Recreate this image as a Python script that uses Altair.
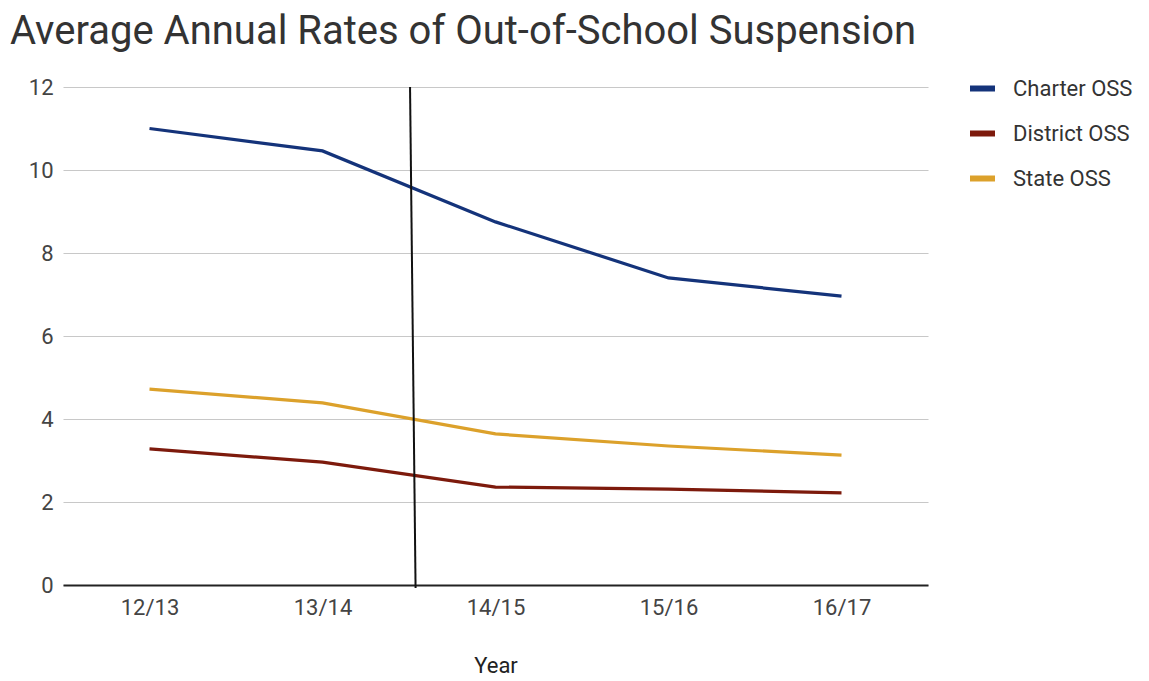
import altair as alt
import pandas as pd

years = ["12/13", "13/14", "14/15", "15/16", "16/17"]
charter = [11.0, 10.46, 8.75, 7.40, 6.96]
district = [3.28, 2.96, 2.36, 2.31, 2.22]
state = [4.72, 4.39, 3.64, 3.35, 3.13]
series_names = ["Charter OSS", "District OSS", "State OSS"]
series_colors = ["#14337a", "#7d1a0c", "#dca12b"]

# hand-drawn divider between 13/14 and 14/15
divider = pd.DataFrame({"x": [1.506], "x2": [1.538], "y": [12.0], "y2": [-0.07]})

rows = []
for name, vals in zip(series_names, [charter, district, state]):
    for i, (yr, v) in enumerate(zip(years, vals)):
        rows.append({"idx": i, "year": yr, "series": name, "value": v})
df = pd.DataFrame(rows)

label_expr = "[" + ",".join(f"'{y}'" for y in years) + "][datum.value]"

x_scale = alt.Scale(domain=[-0.5, 4.5], nice=False, zero=False)
y_scale = alt.Scale(domain=[0, 12], nice=False)
x_axis = alt.Axis(
    title="Year", values=list(range(len(years))), labelExpr=label_expr,
    grid=False, ticks=False, domainColor="#222", domainWidth=2,
    labelFont="Roboto", labelFontSize=22, labelColor="#444", labelPadding=12,
    titleFont="Roboto", titleFontSize=22, titleFontWeight="normal",
    titleColor="#222", titlePadding=37,
)
y_axis = alt.Axis(
    title=None, values=[0, 2, 4, 6, 8, 10, 12], domain=False, ticks=False,
    gridColor="#c8c8c8", gridWidth=1.2,
    labelFont="Roboto", labelFontSize=22, labelColor="#444", labelPadding=10,
)

lines = alt.Chart(df).mark_line(strokeWidth=3.2).encode(
    x=alt.X("idx:Q", scale=x_scale, axis=x_axis),
    y=alt.Y("value:Q", scale=y_scale, axis=y_axis),
    color=alt.Color(
        "series:N",
        scale=alt.Scale(domain=series_names, range=series_colors),
        legend=alt.Legend(
            title=None, orient="none", legendX=904, legendY=-14,
            symbolType="stroke", symbolStrokeWidth=6, symbolSize=625,
            labelFont="Roboto", labelFontSize=22, labelColor="#333",
            labelOffset=15, rowPadding=17,
        ),
    ),
)

rule = alt.Chart(divider).mark_rule(color="#111", strokeWidth=2).encode(
    x=alt.X("x:Q", scale=x_scale, axis=x_axis), x2="x2:Q",
    y=alt.Y("y:Q", scale=y_scale, axis=y_axis), y2="y2:Q",
)

chart = alt.layer(lines, rule).properties(
    width=865, height=498,
    autosize=alt.AutoSizeParams(type="none"),
    padding={"left": 55, "top": 79, "right": 210, "bottom": 94},
    title=alt.TitleParams(
        "Average Annual Rates of Out-of-School Suspension",
        anchor="start", frame="group", dx=-53, offset=21,
        font="Roboto", fontSize=40, fontWeight="normal", color="#333",
    ),
).configure(background="white").configure_view(stroke=None)

chart.save("out.html", embed_options={"renderer": "svg", "actions": False})
